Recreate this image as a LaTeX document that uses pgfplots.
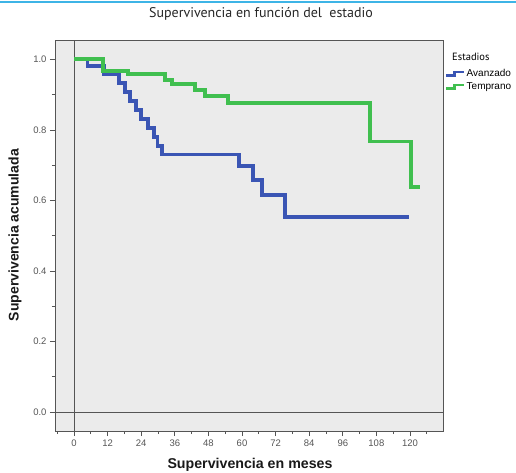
\documentclass[border=0pt]{standalone}
\usepackage{pgfplots}
\pgfplotsset{compat=1.18}
\usepackage{fontspec}
\setmainfont{Liberation Sans}
\newfontfamily\ptsans{PT Sans}
\definecolor{kmblue}{HTML}{3A55B4}
\definecolor{kmgreen}{HTML}{40BF4F}
\definecolor{bggray}{HTML}{EBEBEB}
\definecolor{framegray}{HTML}{555555}
\definecolor{ticktext}{HTML}{555555}
\definecolor{topcyan}{HTML}{3DB4E6}
\begin{document}
\begin{tikzpicture}[x=1pt,y=1pt]
\useasboundingbox (0,0) rectangle (516,472);
\fill[topcyan] (0,468.5) rectangle (516,471);
\begin{axis}[
  at={(55pt,41pt)}, anchor=south west,
  scale only axis, width=388pt, height=391pt,
  xmin=-6.8, xmax=131.8, ymin=-0.054, ymax=1.055,
  axis background/.style={fill=bggray},
  axis line style={framegray, line width=0.8pt},
  xtick={0,12,24,36,48,60,72,84,96,108,120},
  minor xtick={-6,6,18,30,42,54,66,78,90,102,114,126},
  ytick={0,0.2,0.4,0.6,0.8,1.0},
  minor ytick={0.1,0.3,0.5,0.7,0.9},
  tick align=outside, major tick length=5pt, minor tick length=3pt,
  tick style={framegray, line width=0.8pt},
  tick pos=left,
  /pgf/number format/assume math mode=true,
  yticklabel style={/pgf/number format/.cd, fixed, fixed zerofill, precision=1},
  ticklabel style={font=\fontsize{9.5}{10}\selectfont, text=ticktext},
  xlabel={Supervivencia en meses},
  ylabel={Supervivencia acumulada},
  xlabel style={at={(rel axis cs:0.5026,-0.095)}, anchor=base, font=\bfseries\fontsize{14.2}{15}\selectfont, text=black!90},
  ylabel style={at={(rel axis cs:-0.103,0.501)}, anchor=center, rotate=0, font=\bfseries\fontsize{14}{15}\selectfont, text=black!90},
  title={Supervivencia en función del\ \ estadio},
  title style={at={(rel axis cs:0.531,1.051)}, anchor=center, font=\ptsans\fontsize{14}{16}\selectfont, text=black!85},
  legend image code/.code={\draw[#1, line width=2.5pt] (0pt,-1.5pt) -- (8pt,-1.5pt) -- (8pt,2pt) -- (18pt,2pt);},
  legend style={at={(rel axis cs:1,1)}, anchor=north west, xshift=2pt, yshift=-28.5pt,
    draw=none, fill=none, inner sep=0pt, row sep=2pt,
    font=\fontsize{10}{11}\selectfont,
    nodes={text height=7pt, text depth=2pt, inner sep=1pt}},
  legend cell align=left,
  clip=false,
]
\addplot[framegray, line width=0.8pt, forget plot] coordinates {(0,-0.054) (0,1.055)};
\addplot[framegray, line width=0.8pt, forget plot] coordinates {(-6.8,0) (131.8,0)};
\addplot[kmblue, line width=3.8pt, const plot mark left, line join=miter] coordinates {
(0,1.0) (4.8,0.982) (10.7,0.959) (16.2,0.934) (18.2,0.908) (20,0.883) (22,0.857)
(24,0.832) (26.5,0.806) (28.5,0.781) (29.8,0.755) (31.5,0.73) (59,0.698)
(63.8,0.658) (67,0.616) (75.4,0.554) (119.6,0.554)};
\addlegendentry{Avanzado}
\addplot[kmgreen, line width=3.8pt, const plot mark left, line join=miter] coordinates {
(0,1.0) (10.4,0.968) (19.3,0.958) (32.5,0.942) (34.9,0.930) (43.2,0.913)
(46.8,0.897) (55,0.877) (105.7,0.767) (120.4,0.639) (123.6,0.639)};
\addlegendentry{Temprano}
\node[font=\ptsans\fontsize{10.5}{12}\selectfont, anchor=west, inner sep=0pt] at (rel axis cs:1,1) [xshift=9pt, yshift=-17pt] {Estadios};
\end{axis}
\end{tikzpicture}
\end{document}
